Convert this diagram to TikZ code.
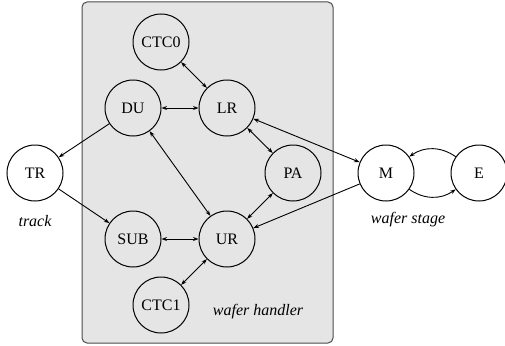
\documentclass[tikz,border=0pt]{standalone}
\usepackage{fontspec}
\setmainfont{Liberation Serif}
\newfontfamily\timesf{Liberation Serif}
\usetikzlibrary{arrows.meta}
\begin{document}
\begin{tikzpicture}[x=1pt,y=-1pt,
  st/.style={circle,draw,line width=1pt,minimum size=56pt,inner sep=0pt,font=\timesf\fontsize{16}{18}\selectfont},
  lbl/.style={font=\timesf\fontsize{16}{18}\selectfont\itshape},
  link/.style={line width=0.9pt,{Stealth[length=5.5pt,width=4pt]}-{Stealth[length=5.5pt,width=4pt]}},
  one/.style={line width=0.9pt,-{Stealth[length=5.5pt,width=4pt]}}]
\useasboundingbox (0,0) rectangle (505,345);
\node[draw=black!70,fill=black!10,line width=1pt,rounded corners=5pt,minimum width=251pt,minimum height=341pt,inner sep=0pt] (box) at (207.5,172.5) {};
\node[st] (CTC0) at (161,42) {CTC0};
\node[st] (DU) at (133,108) {DU};
\node[st] (LR) at (227,108) {LR};
\node[st] (TR) at (35,173) {TR};
\node[st] (PA) at (293,173) {PA};
\node[st] (M) at (386,173) {M};
\node[st] (E) at (479,173) {E};
\node[st] (SUB) at (133,239) {SUB};
\node[st] (UR) at (227,239) {UR};
\node[st] (CTC1) at (161,305) {CTC1};
\node[lbl] (track) at (35,221) {track};
\node[lbl] (ws) at (408,220) {wafer stage};
\node[lbl] (wh) at (258,312) {wafer handler};
\draw[link] (CTC0) -- (LR);
\draw[link] (DU) -- (LR);
\draw[link] (DU) -- (UR);
\draw[link] (LR) -- (PA);
\draw[link] (LR) -- (M);
\draw[link] (PA) -- (UR);
\draw[link] (SUB) -- (UR);
\draw[link] (UR) -- (CTC1);
\draw[one] (DU) -- (TR);
\draw[one] (TR) -- (SUB);
\draw[one] (M) -- (UR);
\draw[one] (E) to[bend right=35] (M);
\draw[one] (M) to[bend right=35] (E);
\end{tikzpicture}
\end{document}
